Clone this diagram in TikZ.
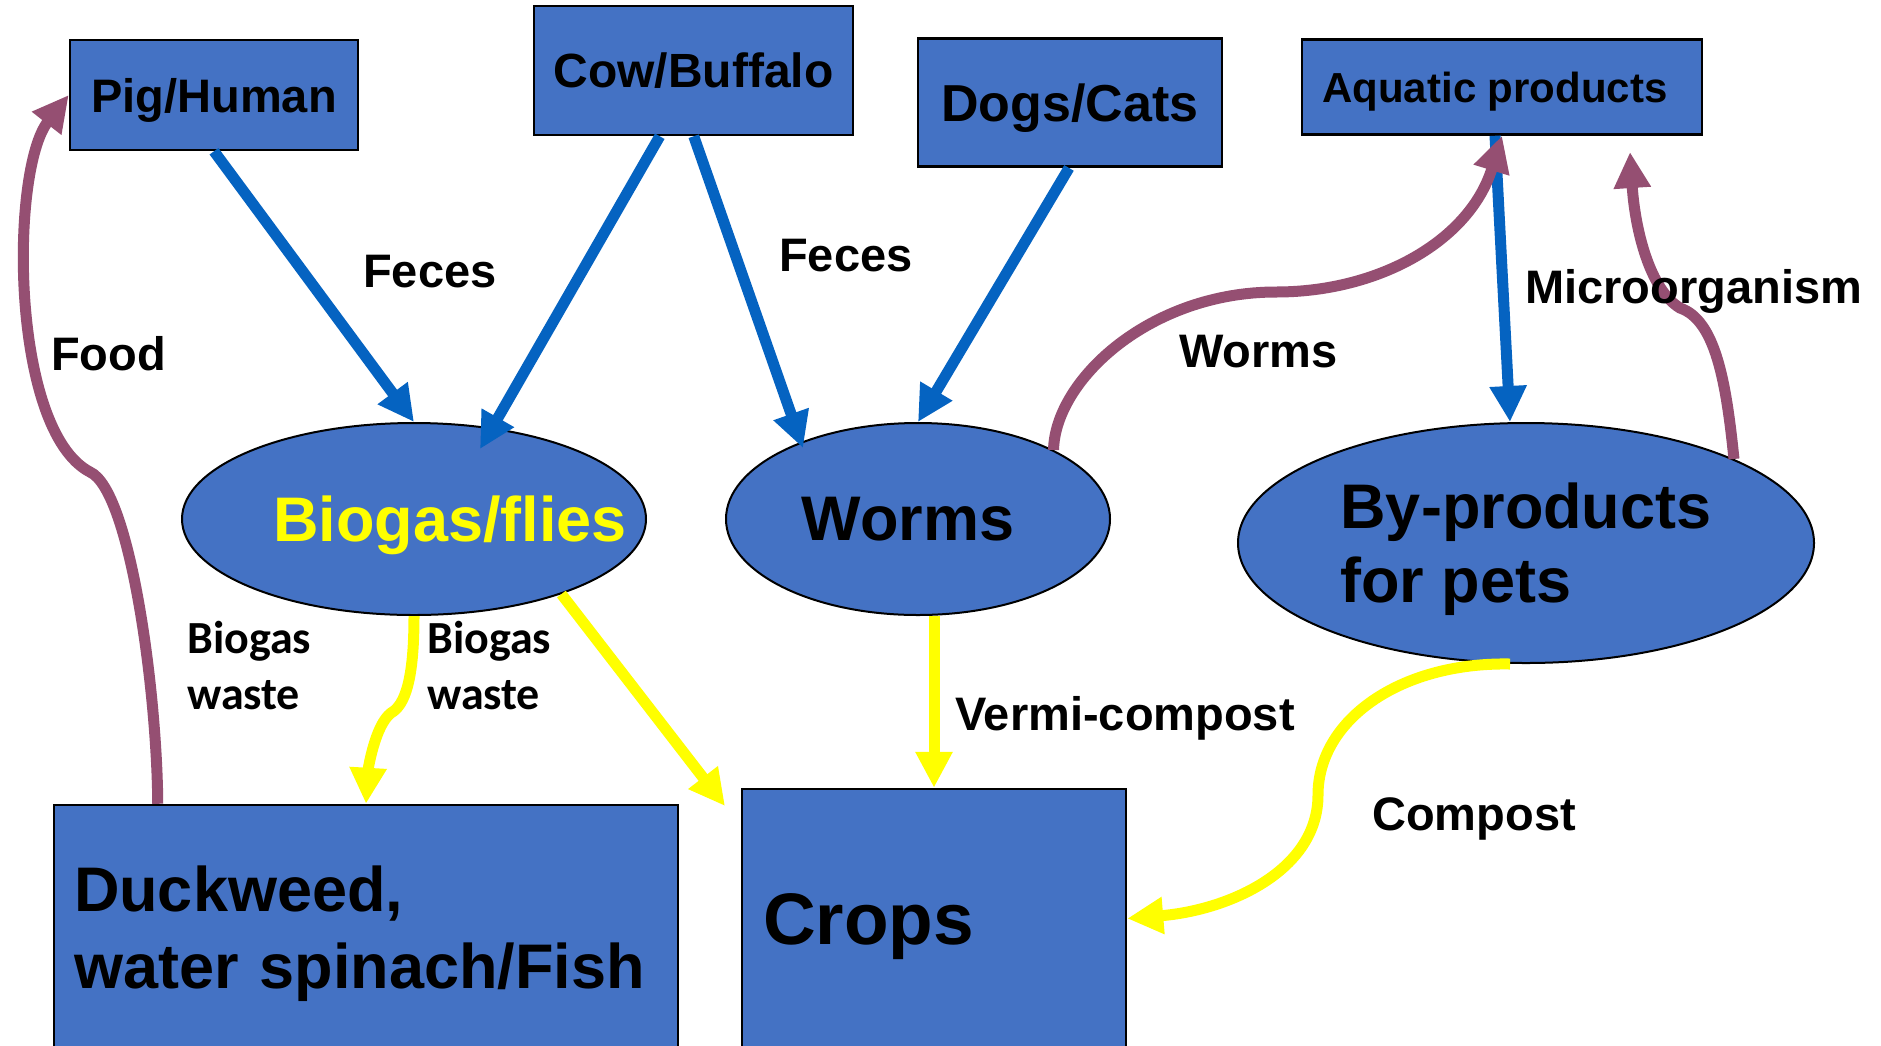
\documentclass[tikz,border=0pt]{standalone}
\usepackage{fontspec}
\setmainfont{Liberation Sans}
\newfontfamily\calibri{Carlito}
\usetikzlibrary{arrows.meta,shapes.geometric,calc}
\definecolor{boxblue}{HTML}{4472C4}
\definecolor{arrblue}{HTML}{0563C1}
\definecolor{arrpurple}{HTML}{954F72}
\definecolor{arryellow}{HTML}{FFFF00}
\tikzset{
  box/.style={draw=black,line width=2.5pt,fill=boxblue,rectangle,inner sep=0pt,text depth=0pt},
  oval/.style={draw=black,line width=2pt,fill=boxblue,ellipse,inner sep=0pt,text depth=0pt},
  lbl/.style={inner sep=0pt,anchor=base west,font=\bfseries\fontsize{47}{56}\selectfont},
  clbl/.style={inner sep=0pt,anchor=base west,align=left,font=\calibri\bfseries\fontsize{46}{56}\selectfont},
  flow/.style={line width=11pt,-{Triangle[length=36pt,width=35pt]}},
  bflow/.style={flow,draw=arrblue},
  pflow/.style={flow,draw=arrpurple},
  yflow/.style={flow,draw=arryellow},
}
\begin{document}
\begin{tikzpicture}[x=1pt,y=-1pt]
\useasboundingbox (0,0) rectangle (1881,1045);
\fill[white] (0,0) rectangle (1881,1045);
\clip (0,0) rectangle (1881,1045);

% boxes
\node[box,minimum width=288pt,minimum height=110pt,font=\bfseries\fontsize{47}{56}\selectfont] (pig) at (214,95) {Pig/Human};
\node[box,minimum width=319pt,minimum height=129pt,font=\bfseries\fontsize{48}{56}\selectfont] (cow) at (693.5,70.5) {Cow/Buffalo};
\node[box,minimum width=304pt,minimum height=128pt,font=\bfseries\fontsize{52}{60}\selectfont] (dogs) at (1070,102.7) {Dogs/Cats};
\node[box,minimum width=400pt,minimum height=95pt,font=\bfseries\fontsize{42}{50}\selectfont] (aqua) at (1502,87) {\makebox[0pt]{Aquatic products\hspace*{14pt}}};

% ellipses
\node[oval,minimum width=464pt,minimum height=192pt,font=\bfseries\fontsize{63}{74}\selectfont,text=arryellow] (biogas) at (414,519) {\makebox[0pt]{\hspace*{72pt}Biogas/flies}};
\node[oval,minimum width=384pt,minimum height=192pt,font=\bfseries\fontsize{63}{74}\selectfont] (worms) at (918,519) {\makebox[0pt]{Worms\hspace*{20pt}}};
\node[oval,minimum width=576pt,minimum height=240pt,align=left,font=\bfseries\fontsize{63}{74}\selectfont] (byp) at (1526,543) {By-products\\for pets};

% bottom boxes
\node[box,minimum width=624pt,minimum height=244pt,text width=584pt,inner xsep=20pt,align=left,text height=45pt,text depth=77pt,font=\bfseries\fontsize{63}{77}\selectfont] (duck) at (366,927) {Duckweed,\\water spinach/Fish};
\node[box,minimum width=384pt,minimum height=259pt,text width=342pt,inner xsep=21pt,align=left,font=\bfseries\fontsize{73}{84}\selectfont] (crops) at (934,918.5) {Crops};

% free ends
\coordinate (microtip) at (1630,152);
\coordinate (ytip) at (725,806);

% blue arrows
\draw[bflow] (pig.south) -- (biogas.north);
\draw[bflow] ($(cow.south west)+(127,0)$) -- ($(biogas.center)+(66,-70)$);
\draw[bflow] ($(cow.south west)+(161,0)$) -- ($(worms.center)+(-115,-71)$);
\draw[bflow] ($(dogs.south)+(-1,0)$) -- (worms.north);
\draw[bflow] ($(aqua.south)+(-7,0)$) -- ($(byp.north)+(-16,0)$);

% purple arrows
\draw[pflow] ($(duck.north west)+(105,0)$) .. controls (157,690) and (130,490) .. (90,472)
   .. controls (10,430) and (10,170) .. (pig.west);
\draw[pflow] (worms.27.4) .. controls (1055,380) and (1150,292) .. (1276,292)
   .. controls (1380,292) and (1470,240) .. (aqua.south);
\draw[pflow] (byp.22.9) .. controls (1726,380) and (1715,320) .. (1680,308)
   .. controls (1650,290) and (1635,230) .. (microtip);

% yellow arrows
\draw[yflow] (biogas.south) .. controls (414,680) and (405,705) .. (391,713)
   .. controls (375,725) and (368,770) .. (duck.north);
\draw[yflow] (biogas.-27.5) -- (ytip);
\draw[yflow] (worms.south -| crops.north) -- (crops.north);
\draw[yflow] ($(byp.south)+(-16,0)$) .. controls (1400,662) and (1318,720) .. (1318,795)
   .. controls (1318,870) and (1230,910) .. (crops.east);

% labels
\node[lbl] (feces1) at (363,287) {Feces};
\node[lbl] (feces2) at (779,271) {Feces};
\node[lbl] (food) at (51,370) {Food};
\node[lbl] (wormslbl) at (1179,367) {Worms};
\node[lbl] (micro) at (1525,303) {Microorganism};
\node[lbl] (vermi) at (955,730) {Vermi-compost};
\node[lbl] (compost) at (1372,830) {Compost};
\node[clbl] (bw1) at (187,709) {Biogas\\waste};
\node[clbl] (bw2) at (427,709) {Biogas\\waste};
\end{tikzpicture}
\end{document}
